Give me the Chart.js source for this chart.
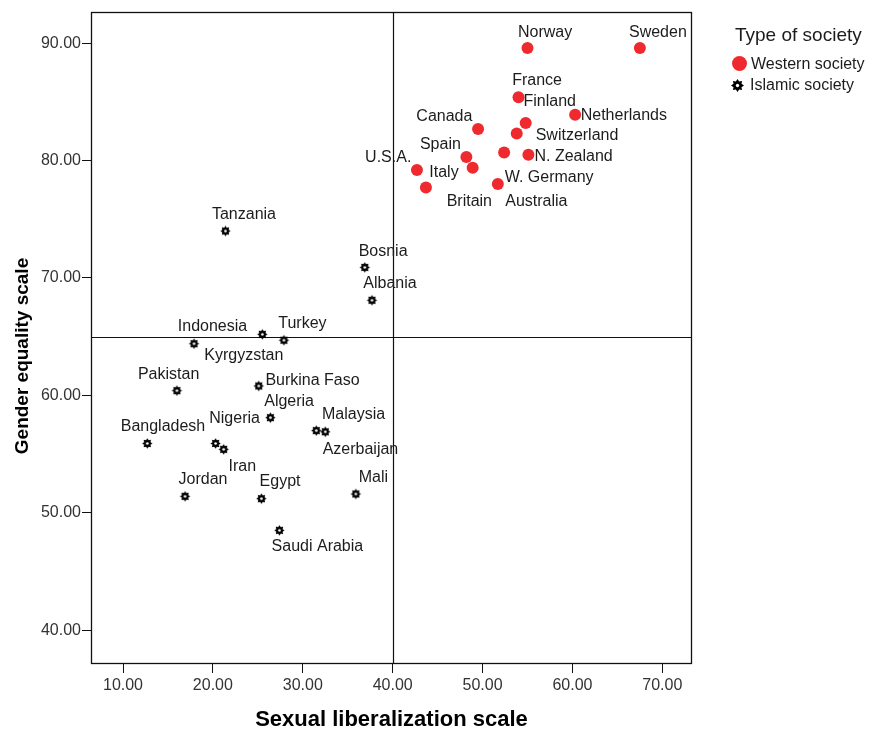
<!DOCTYPE html>
<html><head><meta charset="utf-8">
<script src="https://cdn.jsdelivr.net/npm/chart.js@4.4.1/dist/chart.umd.min.js"></script>
<style>html,body{margin:0;padding:0;background:#fff;}#wrap{width:873px;height:731px;}</style>
</head><body><div id="wrap"><canvas id="c" width="873" height="731"></canvas></div>
<script>
// ---------------- DATA ----------------
const westernCountries = ['Norway','Sweden','France','Finland','Netherlands','Canada','Switzerland','W. Germany','N. Zealand','Spain','Italy','U.S.A.','Britain','Australia'];
const westernSexLib    = [55.0, 67.5, 54.0, 54.8, 60.3, 49.5, 53.8, 52.4, 55.1, 48.2, 48.9, 42.7, 43.7, 51.7];
const westernGenderEq  = [89.6, 89.6, 85.4, 83.2, 83.9, 82.7, 82.3, 80.7, 80.5, 80.3, 79.4, 79.2, 77.7, 78.0];

const islamicCountries = ['Tanzania','Bosnia','Albania','Kyrgyzstan','Turkey','Indonesia','Pakistan','Burkina Faso','Algeria','Malaysia','Azerbaijan','Bangladesh','Nigeria','Iran','Jordan','Egypt','Mali','Saudi Arabia'];
const islamicSexLib    = [21.4, 36.9, 37.7, 25.5, 27.9, 17.9, 16.0, 25.1, 26.4, 31.5, 32.5, 12.7, 20.3, 21.2, 16.9, 25.4, 35.9, 27.4];
const islamicGenderEq  = [74.0, 70.9, 68.1, 65.2, 64.7, 64.4, 60.4, 60.8, 58.1, 57.0, 56.9, 55.9, 55.9, 55.4, 51.4, 51.2, 51.6, 48.5];

const seriesNames = ['Western society', 'Islamic society'];
const legendTitle = 'Type of society';
const xTitle = 'Sexual liberalization scale';
const yTitle = 'Gender equality scale';
const xTickValues = [10, 20, 30, 40, 50, 60, 70];
const yTickValues = [40, 50, 60, 70, 80, 90];
const referenceX = 40;
const referenceY = 65;

// ---------------- LAYOUT (label placement, px offsets of label centre from point) ----------------
const westernLabelOffsets = [[17.6,-16.6],[18,-16.6],[18.6,-17.3],[24,-22.6],[48.7,-0.7],[-33.7,-13],[60.3,1],[45,24],[45.2,0.4],[-26,-13.4],[-28.7,4],[-28.7,-13.3],[43.4,12.7],[38.5,17]];
const islamicLabelOffsets = [[18.5,-17.4],[18.3,-17.3],[18,-17.7],[-18.5,20.7],[18.5,-17.3],[18.5,-18.3],[-8.3,-17.3],[53.8,-6.4],[18.7,-17.3],[37.3,-17.4],[35.2,17],[15.7,-17.6],[19,-26],[18.7,16.7],[18,-17.4],[18.6,-17.6],[17.6,-17],[38,15.7]];

// ---------------- STYLE ----------------
const BASE = '"Liberation Sans", Arial, Helvetica, sans-serif';
const tickFont = {family: BASE, size: 16};
const RED = '#EE2A2F';

function makeStar(r){
  const s = Math.ceil(r*2 + 4);
  const c = document.createElement('canvas'); c.width = c.height = s;
  const g = c.getContext('2d');
  g.translate(s/2, s/2);
  g.beginPath();
  const n = 8;
  for (let i = 0; i < 2*n; i++){
    const rad = i % 2 === 0 ? r : r*0.66;
    const a = i*Math.PI/n - Math.PI/2;
    g.lineTo(rad*Math.cos(a), rad*Math.sin(a));
  }
  g.closePath();
  g.fillStyle = '#000'; g.fill();
  g.beginPath(); g.arc(0, 0, r*0.26, 0, 2*Math.PI); g.fillStyle = '#fff'; g.fill();
  return c;
}
const starPlot = makeStar(5.2);
const starLegend = makeStar(6.5);

Chart.defaults.font.family = BASE;

const framePlugin = {
  id: 'frame',
  beforeDatasetsDraw(chart){
    const {ctx, chartArea: a, scales} = chart;
    ctx.save();
    ctx.strokeStyle = '#111';
    ctx.lineWidth = 1.3;
    ctx.strokeRect(Math.round(a.left)+0.5, Math.round(a.top)+0.5, Math.round(a.right-a.left)-1, Math.round(a.bottom-a.top));
    const px = scales.x.getPixelForValue(referenceX);
    const py = scales.y.getPixelForValue(referenceY);
    ctx.lineWidth = 1.2;
    ctx.beginPath();
    ctx.moveTo(Math.round(px)+0.5, a.top); ctx.lineTo(Math.round(px)+0.5, a.bottom);
    ctx.moveTo(a.left, Math.round(py)+0.5); ctx.lineTo(a.right, Math.round(py)+0.5);
    ctx.stroke();
    ctx.restore();
  }
};

const labelPlugin = {
  id: 'pointLabels',
  afterDatasetsDraw(chart){
    const ctx = chart.ctx;
    ctx.save();
    ctx.font = '16px ' + BASE;
    ctx.fillStyle = '#1c1c1c';
    ctx.textAlign = 'center'; ctx.textBaseline = 'middle';
    chart.data.datasets.forEach((ds, di) => {
      const meta = chart.getDatasetMeta(di);
      meta.data.forEach((el, i) => {
        const off = ds.labelOffsets[i];
        ctx.fillText(ds.names[i], el.x + off[0], el.y + off[1] + 1);
      });
    });
    // y axis title
    ctx.save();
    ctx.translate(23, 356);
    ctx.rotate(-Math.PI/2);
    ctx.font = 'bold 19px ' + BASE;
    ctx.fillStyle = '#000';
    ctx.fillText(yTitle, 0, 0);
    ctx.restore();
    ctx.restore();
  }
};

const legendPlugin = {
  id: 'customLegend',
  afterDraw(chart){
    const ctx = chart.ctx;
    const ds = chart.data.datasets;
    ctx.save();
    ctx.textAlign = 'left'; ctx.textBaseline = 'middle';
    ctx.fillStyle = '#1c1c1c';
    ctx.font = '19px ' + BASE;
    ctx.fillText(legendTitle, 735, 36);
    ctx.beginPath(); ctx.arc(739.5, 63.5, 7.5, 0, 2*Math.PI); ctx.fillStyle = ds[0].backgroundColor; ctx.fill();
    ctx.fillStyle = '#1c1c1c';
    ctx.font = '16px ' + BASE;
    ctx.fillText(ds[0].label, 751, 65);
    ctx.drawImage(starLegend, Math.round(737 - starLegend.width/2), Math.round(85 - starLegend.height/2));
    ctx.fillText(ds[1].label, 750, 86);
    ctx.restore();
  }
};

const toPoints = (xs, ys) => xs.map((x, i) => ({x, y: ys[i]}));

new Chart(document.getElementById('c'), {
  type: 'scatter',
  data: {
    datasets: [
      {
        label: seriesNames[0],
        names: westernCountries,
        labelOffsets: westernLabelOffsets,
        data: toPoints(westernSexLib, westernGenderEq),
        pointStyle: 'circle', pointRadius: 6, backgroundColor: RED, borderColor: RED, borderWidth: 0
      },
      {
        label: seriesNames[1],
        names: islamicCountries,
        labelOffsets: islamicLabelOffsets,
        data: toPoints(islamicSexLib, islamicGenderEq),
        pointStyle: starPlot, pointRadius: 5, backgroundColor: '#000', borderColor: '#000'
      }
    ]
  },
  options: {
    responsive: false,
    animation: false,
    devicePixelRatio: 1,
    events: [],
    layout: {padding: {top: 12, right: 181, bottom: 0, left: 0}},
    plugins: {legend: {display: false}, tooltip: {enabled: false}},
    scales: {
      x: {
        type: 'linear', min: 6.44, max: 73.3,
        grid: {display: true, drawOnChartArea: false, drawTicks: true, tickLength: 10, color: '#111', lineWidth: 1},
        border: {display: false},
        ticks: {font: tickFont, color: '#333', padding: 3, autoSkip: false, maxRotation: 0, callback: v => Number(v).toFixed(2)},
        afterBuildTicks: s => { s.ticks = xTickValues.map(v => ({value: v})); },
        afterFit: s => { s.height = 68; },
        title: {display: true, text: xTitle, color: '#000', font: {family: BASE, size: 22, weight: 'bold', lineHeight: 1}, padding: {top: 0, bottom: 0}}
      },
      y: {
        type: 'linear', min: 37.2, max: 92.66,
        grid: {display: true, drawOnChartArea: false, drawTicks: true, tickLength: 9, color: '#111', lineWidth: 1},
        border: {display: false},
        ticks: {font: tickFont, color: '#333', padding: 1, autoSkip: false, callback: v => Number(v).toFixed(2)},
        afterBuildTicks: s => { s.ticks = yTickValues.map(v => ({value: v})); },
        afterFit: s => { s.width = 91; },
        title: {display: false}
      }
    }
  },
  plugins: [framePlugin, labelPlugin, legendPlugin]
});
</script>
</body></html>
